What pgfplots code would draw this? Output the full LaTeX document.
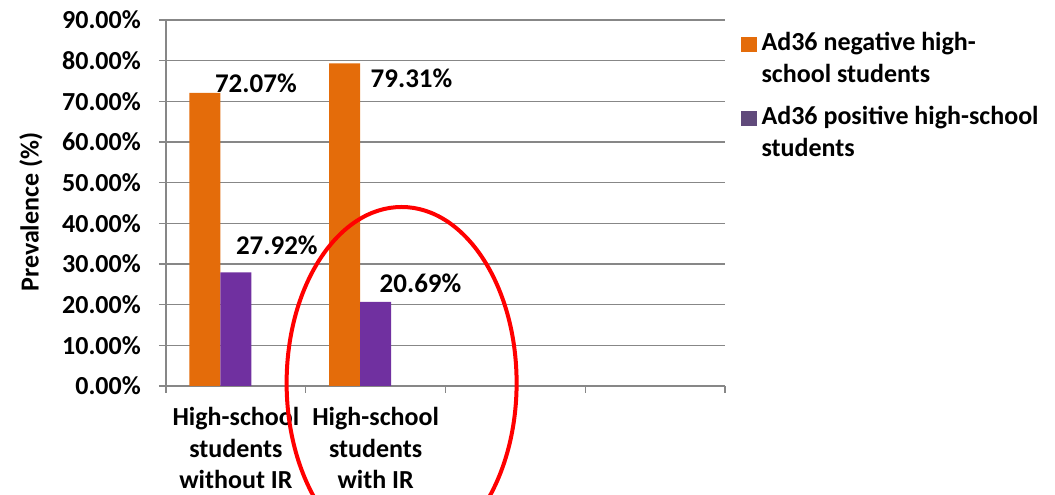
\documentclass[border=0pt]{standalone}
\usepackage{fontspec}
\setmainfont{Carlito}
\usepackage{pgfplots}
\pgfplotsset{compat=1.18}
\definecolor{orangeC}{HTML}{E46C0A}
\definecolor{purpleC}{HTML}{7030A0}
\definecolor{purpleL}{HTML}{604A7B}
\definecolor{gridC}{HTML}{878787}
\begin{document}
\begin{tikzpicture}
\begin{axis}[
  at={(0,0)}, anchor=south west,
  width=559pt, height=366pt, scale only axis,
  xmin=-0.5, xmax=3.5, ymin=0, ymax=90,
  clip=false,
  axis x line=bottom, axis y line=left,
  axis line style={-, draw=gridC, line width=1.3pt},
  every outer x axis line/.append style={-},
  every outer y axis line/.append style={-},
  ytick={0,10,...,90},
  yticklabels={0.00\%,10.00\%,20.00\%,30.00\%,40.00\%,50.00\%,60.00\%,70.00\%,80.00\%,90.00\%},
  ymajorgrids, grid style={draw=gridC, line width=1.3pt},
  xtick={0,1},
  xticklabels={{High-school\\students\\without IR},{High-school\\students\\with IR}},
  minor xtick={-0.5,0.5,1.5,2.5,3.5},
  major x tick style={draw=none},
  tick align=outside, major tick length=7pt, minor tick length=7pt,
  tick style={draw=gridC, line width=1.3pt},
  /pgf/number format/assume math mode=true,
  ticklabel style={font=\fontsize{26}{31.5}\selectfont\bfseries},
  yticklabel style={anchor=east, inner sep=0pt, xshift=-18pt},
  xticklabel style={align=center, anchor=north, inner sep=0pt, yshift=-14.5pt},
  ylabel={Prevalence (\%)},
  ylabel style={font=\fontsize{26}{32}\selectfont\bfseries, at={(axis description cs:-0.2415,0.475)}, anchor=center},
  legend style={at={(axis description cs:1.0286,0.972)}, anchor=north west, draw=none,
    font=\fontsize{26}{32}\selectfont\bfseries, row sep=18pt, column sep=3pt, inner sep=0pt,
    cells={align=left}},
  legend cell align=left,
]
\addplot[ybar, bar width=0.2214, bar shift=-0.2214, fill=orangeC, draw=none, forget plot]
  coordinates {(0,72.07) (1,79.31)};
\addplot[ybar, bar width=0.2214, bar shift=0, fill=purpleC, draw=none, forget plot]
  coordinates {(0,27.92) (1,20.69)};
\addlegendimage{legend image code/.code={\fill[orangeC] (0pt,7pt) rectangle (15pt,21pt);}}
\addlegendentry{Ad36 negative high-\\school students}
\addlegendimage{legend image code/.code={\fill[purpleL] (0pt,7pt) rectangle (15pt,21pt);}}
\addlegendentry{Ad36 positive high-school\\students}
\begin{scope}[every node/.style={font=\fontsize{27}{32}\selectfont\bfseries, anchor=center}]
\node at (axis cs:0.143,74.5) {72.07\%};
\node at (axis cs:0.293,34.7) {27.92\%};
\node at (axis cs:1.257,75.7) {79.31\%};
\node at (axis cs:1.321,25.3) {20.69\%};
\end{scope}
\coordinate (ell) at (axis cs:1.186,0.74);
\end{axis}
\draw[red, line width=4pt] (ell) ellipse [x radius=115pt, y radius=176pt];
\pgfresetboundingbox
\useasboundingbox (-166pt,-109pt) rectangle (889pt,386pt);
\end{tikzpicture}
\end{document}
